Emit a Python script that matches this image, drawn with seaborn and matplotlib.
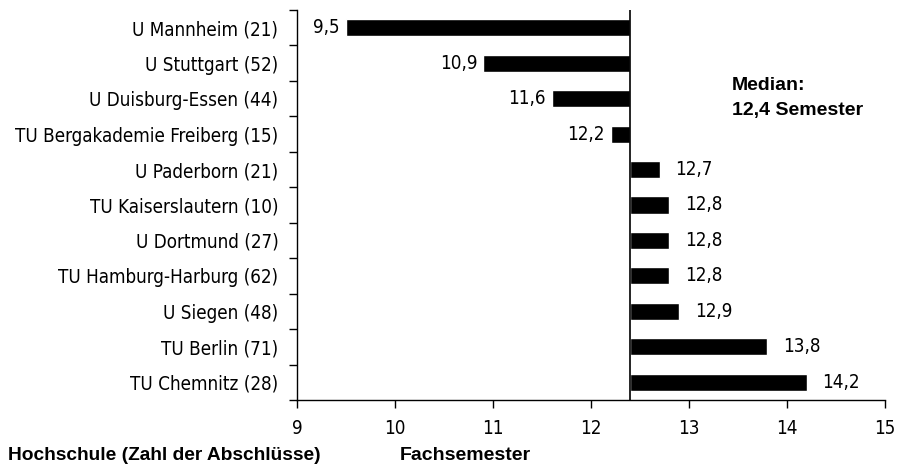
import matplotlib
matplotlib.use("Agg")
import matplotlib.pyplot as plt
import seaborn as sns
import pandas as pd
from matplotlib.ticker import FixedLocator
from matplotlib.transforms import offset_copy

# Daten
hochschulen = [
    "U Mannheim (21)",
    "U Stuttgart (52)",
    "U Duisburg-Essen (44)",
    "TU Bergakademie Freiberg (15)",
    "U Paderborn (21)",
    "TU Kaiserslautern (10)",
    "U Dortmund (27)",
    "TU Hamburg-Harburg (62)",
    "U Siegen (48)",
    "TU Berlin (71)",
    "TU Chemnitz (28)",
]
semester = [9.5, 10.9, 11.6, 12.2, 12.7, 12.8, 12.8, 12.8, 12.9, 13.8, 14.2]
median = 12.4
x_ticks = [9, 10, 11, 12, 13, 14, 15]

df = pd.DataFrame({"hochschule": hochschulen, "semester": semester})
df["diff"] = df["semester"] - median

sns.set_style("white")
plt.rcParams["font.family"] = ["DejaVu Sans"]
plt.rcParams["font.stretch"] = "condensed"
plt.rcParams["text.color"] = "black"

fig = plt.figure(figsize=(9.01, 4.67), dpi=100)
ax = fig.add_axes([297 / 901, 67 / 467, 588 / 901, 390 / 467])

# balken starten beim median
sns.barplot(data=df, x="diff", y="hochschule", orient="h", color="black",
            width=0.48, left=median, ax=ax, saturation=1)

ax.axvline(median, color="black", lw=1.2)
ax.set_xlim(9, 15)
ax.set_ylim(len(hochschulen) - 0.5, -0.5)
ax.set_xticks(x_ticks)
ax.set_xticklabels([str(t) for t in x_ticks])

for s in ["top", "right"]:
    ax.spines[s].set_visible(False)
for s in ["left", "bottom"]:
    ax.spines[s].set_color("black")
    ax.spines[s].set_linewidth(1.0)

ax.tick_params(axis="x", bottom=True, length=6, width=1, direction="out",
               labelsize=13.5, pad=8, colors="black")
ax.tick_params(axis="y", which="major", left=False, labelsize=13.5, pad=10,
               colors="black")
ax.yaxis.set_minor_locator(FixedLocator([i - 0.5 for i in range(len(hochschulen) + 1)]))
ax.tick_params(axis="y", which="minor", left=True, length=6, width=1,
               direction="out", color="black")
ax.set_xlabel("")
ax.set_ylabel("")

# werte an den balken
for i, v in enumerate(semester):
    txt = f"{v:.1f}".replace(".", ",")
    if v < median:
        tr = offset_copy(ax.transData, fig=fig, x=-6, y=0, units="dots")
        ax.text(v, i, txt, transform=tr, ha="right", va="center", fontsize=13.5)
    else:
        tr = offset_copy(ax.transData, fig=fig, x=16, y=0, units="dots")
        ax.text(v, i, txt, transform=tr, ha="left", va="center", fontsize=13.5)

bold = ["Liberation Sans", "DejaVu Sans"]
fig.text(732 / 901, 1 - 86 / 467, "Median:", fontsize=14, fontweight="bold",
         family=bold, stretch="normal", va="center", ha="left")
fig.text(732 / 901, 1 - 110 / 467, "12,4 Semester", fontsize=14,
         fontweight="bold", family=bold, stretch="normal", va="center", ha="left")
fig.text(8 / 901, 1 - 455 / 467, "Hochschule (Zahl der Abschlüsse)",
         fontsize=13.8, fontweight="bold", family=bold, stretch="normal",
         va="center", ha="left")
fig.text(400 / 901, 1 - 455 / 467, "Fachsemester", fontsize=14,
         fontweight="bold", family=bold, stretch="normal", va="center", ha="left")

fig.savefig("out.png", dpi=100)
